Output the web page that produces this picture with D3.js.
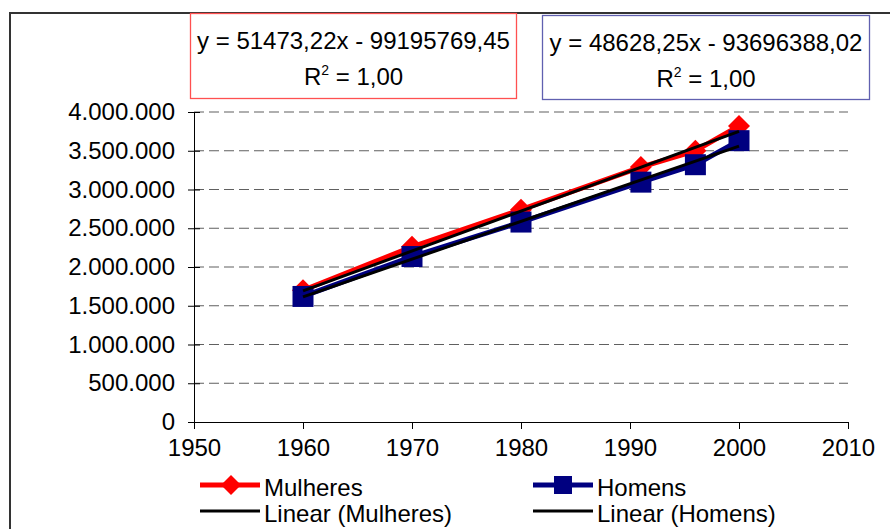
<!DOCTYPE html>
<html><head><meta charset="utf-8">
<script src="https://cdn.jsdelivr.net/npm/d3@7"></script>
<style>body{margin:0;background:#fff}svg{display:block}text{font-family:"Liberation Sans",Arial,sans-serif;fill:#000}</style>
</head><body>
<svg id="c" width="890" height="529"></svg>
<script>
const years = [1960, 1970, 1980, 1991, 1996, 2000];
const mulheres = [1700000, 2260000, 2740000, 3290000, 3500000, 3820000];
const homens = [1620000, 2135000, 2580000, 3095000, 3320000, 3630000];
const trendMulheres = {slope: 51473.22, intercept: -99195769.45};
const trendHomens = {slope: 48628.25, intercept: -93696388.02};
const eqMulheres = ["y = 51473,22x - 99195769,45", "1,00"];
const eqHomens = ["y = 48628,25x - 93696388,02", "1,00"];
const xTicks = [1950, 1960, 1970, 1980, 1990, 2000, 2010];
const yTicks = [0, 500000, 1000000, 1500000, 2000000, 2500000, 3000000, 3500000, 4000000];
const legendLabels = ["Mulheres", "Homens", "Linear (Mulheres)", "Linear (Homens)"];

const svg = d3.select("#c");
const x = d3.scaleLinear().domain([1950, 2010]).range([194, 848]);
const y = d3.scaleLinear().domain([0, 4000000]).range([422, 112]);
const loc = d3.formatLocale({decimal: ",", thousands: ".", grouping: [3], currency: ["", ""]});
const fmt = loc.format(",d");

// outer border
svg.append("path").attr("d", "M10,529V13H890").attr("fill", "none").attr("stroke", "#333").attr("stroke-width", 2);

// gridlines
svg.append("g").selectAll("line").data(yTicks.filter(d => d > 0)).join("line")
  .attr("x1", x(1950)).attr("x2", x(2010)).attr("y1", d => y(d)).attr("y2", d => y(d))
  .attr("stroke", "#606060").attr("stroke-width", 1.2).attr("stroke-dasharray", "10,5");

// y axis
const ya = svg.append("g").attr("transform", `translate(${x(1950)},0)`)
  .call(d3.axisLeft(y).tickValues(yTicks).tickFormat(fmt).tickSize(6).tickPadding(13));
ya.select(".domain").attr("stroke", "#000");
ya.selectAll(".tick line").attr("x2", 6).attr("x1", -6).attr("stroke", "#000");
ya.selectAll("text").style("font-size", "24px").attr("font-family", "Liberation Sans, Arial, sans-serif").attr("fill", "#000");

// x axis
const xa = svg.append("g").attr("transform", `translate(0,${y(0)})`)
  .call(d3.axisBottom(x).tickValues(xTicks).tickFormat(d3.format("d")).tickSizeInner(7).tickSizeOuter(0).tickPadding(10));
xa.select(".domain").attr("stroke", "#000").attr("d", `M${x(1950)-6},0.5H${x(2010)}`);
xa.selectAll(".tick line").attr("stroke", "#000");
xa.selectAll("text").style("font-size", "24px").attr("font-family", "Liberation Sans, Arial, sans-serif").attr("fill", "#000");

const line = d3.line().x(d => x(d[0])).y(d => y(d[1]));
const diamond = d3.symbol().type(d3.symbolSquare).size(242);
const square = d3.symbol().type(d3.symbolSquare).size(441);

// Mulheres
const mData = years.map((yr, i) => [yr, mulheres[i]]);
svg.append("path").datum(mData).attr("d", line).attr("fill", "none").attr("stroke", "#ff0000").attr("stroke-width", 5).attr("stroke-linejoin", "round");
svg.append("g").selectAll("path").data(mData).join("path").attr("d", diamond)
  .attr("transform", d => `translate(${x(d[0])},${y(d[1])}) rotate(45)`).attr("fill", "#ff0000");

// Homens
const hData = years.map((yr, i) => [yr, homens[i]]);
svg.append("path").datum(hData).attr("d", line).attr("fill", "none").attr("stroke", "#000080").attr("stroke-width", 5).attr("stroke-linejoin", "round");
svg.append("g").selectAll("path").data(hData).join("path").attr("d", square)
  .attr("transform", d => `translate(${x(d[0])},${y(d[1])})`).attr("fill", "#000080");

// trend lines
[trendMulheres, trendHomens].forEach(t => {
  const ends = [years[0], years[years.length - 1]].map(yr => [yr, t.slope * yr + t.intercept]);
  svg.append("path").datum(ends).attr("d", line).attr("fill", "none").attr("stroke", "#000").attr("stroke-width", 3);
});

// equation boxes
function eqBox(x0, y0, w, h, color, lines) {
  const g = svg.append("g");
  g.append("rect").attr("x", x0).attr("y", y0).attr("width", w).attr("height", h)
    .attr("fill", "#fff").attr("stroke", color).attr("stroke-width", 1.3);
  g.append("text").attr("x", x0 + w / 2).attr("y", y0 + 35).attr("text-anchor", "middle")
    .style("font-size", "24px").text(lines[0]);
  const t = g.append("text").attr("x", x0 + w / 2).attr("y", y0 + 71).attr("text-anchor", "middle").style("font-size", "24px");
  t.append("tspan").text("R");
  t.append("tspan").attr("dy", -10).style("font-size", "14px").text("2");
  t.append("tspan").attr("dy", 10).text(" = " + lines[1]);
}
eqBox(190.5, 13.5, 326, 85, "#ff5050", eqMulheres);
eqBox(542.5, 15.5, 327, 84, "#6060b0", eqHomens);

// legend
const lg = svg.append("g");
const items = [
  {lx: 200, ly: 485, color: "#ff0000", w: 5, mark: "d", label: legendLabels[0]},
  {lx: 533, ly: 485, color: "#000080", w: 5, mark: "s", label: legendLabels[1]},
  {lx: 200, ly: 511, color: "#000", w: 3, mark: null, label: legendLabels[2]},
  {lx: 533, ly: 511, color: "#000", w: 3, mark: null, label: legendLabels[3]}
];
items.forEach(it => {
  lg.append("line").attr("x1", it.lx).attr("x2", it.lx + 60).attr("y1", it.ly).attr("y2", it.ly)
    .attr("stroke", it.color).attr("stroke-width", it.w);
  if (it.mark === "d") lg.append("path").attr("d", d3.symbol().type(d3.symbolSquare).size(200)).attr("transform", `translate(${it.lx + 31},${it.ly}) rotate(45)`).attr("fill", it.color);
  if (it.mark === "s") lg.append("path").attr("d", d3.symbol().type(d3.symbolSquare).size(324)).attr("transform", `translate(${it.lx + 30},${it.ly})`).attr("fill", it.color);
  lg.append("text").attr("x", it.lx + 64).attr("y", it.ly + 11).style("font-size", "24px").text(it.label);
});
</script>
</body></html>
